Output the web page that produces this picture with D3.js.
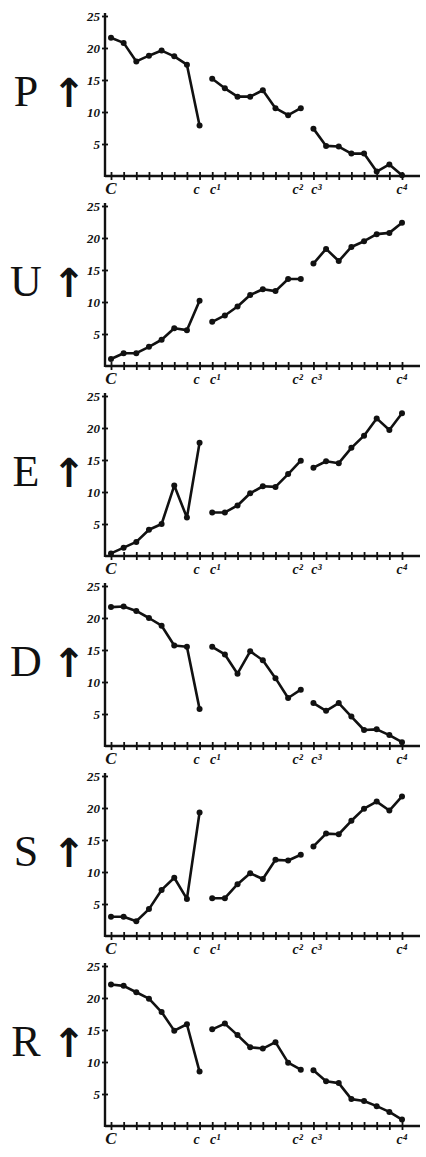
<!DOCTYPE html>
<html>
<head>
<meta charset="utf-8">
<script src="https://cdn.jsdelivr.net/npm/d3@7"></script>
<style>
  html, body { margin: 0; padding: 0; background: #fff; }
  svg { display: block; }
</style>
</head>
<body>
<svg id="chart" width="426" height="1157"></svg>
<script>
// ---- data (24 steps C … c⁴, broken into three runs) ----
const panelLetters = ["P", "U", "E", "D", "S", "R"];
const P = [21.6, 20.8, 17.9, 18.8, 19.6, 18.7, 17.4, 7.9,
           15.2, 13.7, 12.4, 12.4, 13.4, 10.6, 9.5, 10.6,
           7.4, 4.7, 4.6, 3.5, 3.5, 0.7, 1.8, 0.1];
const U = [1.1, 2.0, 2.0, 3.0, 4.1, 5.9, 5.6, 10.2,
           6.9, 7.9, 9.3, 11.1, 12.0, 11.7, 13.6, 13.6,
           16.0, 18.3, 16.4, 18.6, 19.5, 20.6, 20.8, 22.4];
const E = [0.4, 1.3, 2.2, 4.1, 5.0, 11.0, 6.0, 17.7,
           6.8, 6.8, 7.9, 9.8, 10.9, 10.8, 12.8, 14.9,
           13.8, 14.8, 14.5, 16.9, 18.8, 21.5, 19.7, 22.3];
const D = [21.7, 21.8, 21.1, 20.0, 18.8, 15.7, 15.5, 5.8,
           15.5, 14.3, 11.3, 14.8, 13.4, 10.6, 7.5, 8.8,
           6.7, 5.5, 6.7, 4.6, 2.5, 2.6, 1.7, 0.6];
const S = [3.0, 3.0, 2.3, 4.2, 7.2, 9.1, 5.8, 19.3,
           5.9, 5.9, 8.1, 9.8, 8.9, 11.9, 11.8, 12.7,
           14.0, 16.0, 15.9, 18.0, 19.9, 21.0, 19.6, 21.8];
const R = [22.1, 21.9, 20.9, 19.9, 17.8, 14.9, 15.9, 8.5,
           15.1, 16.0, 14.2, 12.3, 12.1, 13.1, 9.9, 8.8,
           8.7, 7.0, 6.7, 4.2, 3.9, 3.1, 2.2, 1.0];
const seriesList = [P, U, E, D, S, R];
const runStarts = [0, 8, 16];       // each run: 8 consecutive steps
const runLength = 8;
const yTicks = [5, 10, 15, 20, 25];
const xLabelText = ["C", "c", "c¹", "c²", "c³", "c⁴"];
const xLabelAt   = [0, 7, 8, 15, 16, 23];

// ---- layout ----
const svg = d3.select("#chart");
const x = d3.scaleLinear().domain([0, 23]).range([111, 402]);
const axisX0 = 105, axisX1 = 420;
const panelGap = 190, firstBase = 176, plotH = 160;
const ink = "#111";

seriesList.forEach((vals, pi) => {
  const base = firstBase + pi * panelGap;
  const y = d3.scaleLinear().domain([0, 25]).range([base, base - plotH]);
  const g = svg.append("g");

  // axes lines
  g.append("line").attr("x1", axisX0).attr("x2", axisX1)
    .attr("y1", base).attr("y2", base)
    .attr("stroke", ink).attr("stroke-width", 2.6);
  g.append("line").attr("x1", axisX0).attr("x2", axisX0)
    .attr("y1", base + 1).attr("y2", y(25) - 3)
    .attr("stroke", ink).attr("stroke-width", 2.4);

  // x ticks (crossing marks) through d3 axis
  const xa = g.append("g").attr("transform", `translate(0,${base})`)
    .call(d3.axisBottom(x).tickValues(d3.range(24)).tickSize(4).tickFormat(""));
  xa.select(".domain").remove();
  xa.selectAll(".tick line").attr("y1", -4).attr("y2", 4)
    .attr("stroke", ink).attr("stroke-width", 1.8);

  // y ticks
  const ya = g.append("g").attr("transform", `translate(${axisX0},0)`)
    .call(d3.axisLeft(y).tickValues(yTicks).tickSize(3).tickPadding(2));
  ya.select(".domain").remove();
  ya.selectAll(".tick line").attr("x1", -3).attr("x2", 3)
    .attr("stroke", ink).attr("stroke-width", 1.8);
  ya.selectAll(".tick text")
    .attr("font-family", "'Liberation Serif', serif")
    .attr("font-style", "italic").attr("font-weight", "bold")
    .attr("font-size", 13).attr("fill", ink);

  // x labels
  xLabelText.forEach((t, k) => {
    g.append("text")
      .attr("x", x(xLabelAt[k]) + (k === 1 ? -3 : k === 3 ? -3 : k === 2 || k === 4 ? 3 : 0))
      .attr("y", base + 18)
      .attr("text-anchor", "middle")
      .attr("font-family", "'Liberation Serif', serif")
      .attr("font-style", "italic").attr("font-weight", "bold")
      .attr("font-size", k === 0 ? 17 : 14).attr("fill", ink)
      .text(t);
  });

  // panel letter + arrow
  g.append("text")
    .attr("x", 26).attr("y", base - 80)
    .attr("dominant-baseline", "middle").attr("text-anchor", "middle")
    .attr("font-family", "'Liberation Serif', serif")
    .attr("font-size", 44).attr("fill", ink)
    .text(panelLetters[pi]);
  g.append("text")
    .attr("x", 69).attr("y", base - 80)
    .attr("dominant-baseline", "middle").attr("text-anchor", "middle")
    .attr("font-family", "'DejaVu Sans', sans-serif")
    .attr("font-weight", "bold")
    .attr("font-size", 40).attr("fill", ink)
    .text("↑");

  // lines and dots, one run at a time
  const line = d3.line().x(d => x(d.i)).y(d => y(d.v));
  runStarts.forEach(s => {
    const run = d3.range(s, s + runLength).map(i => ({ i, v: vals[i] }));
    g.append("path").datum(run).attr("d", line)
      .attr("fill", "none").attr("stroke", ink)
      .attr("stroke-width", 2.6).attr("stroke-linejoin", "round");
    g.selectAll(null).data(run).enter().append("circle")
      .attr("cx", d => x(d.i)).attr("cy", d => y(d.v)).attr("r", 3)
      .attr("fill", ink);
  });
});
</script>
</body>
</html>
